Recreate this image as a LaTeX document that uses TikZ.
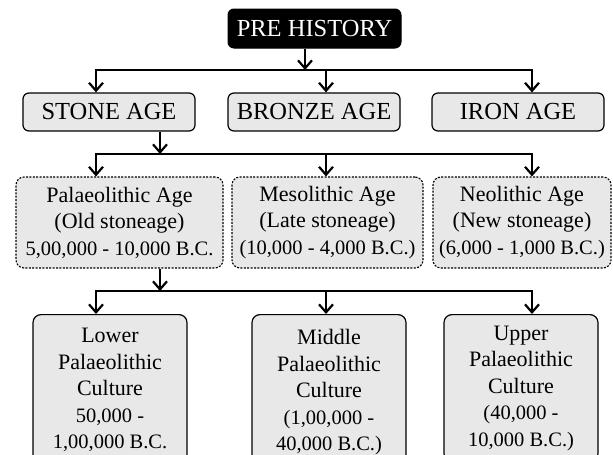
\documentclass[tikz,border=0pt]{standalone}
\usepackage{fontspec}
\setmainfont{Liberation Serif}
\usetikzlibrary{arrows.meta}
\definecolor{boxgray}{HTML}{E8E8E8}
\newcommand{\dtline}[1]{{\fontsize{20.5}{26.5}\selectfont #1}}
\begin{document}
\begin{tikzpicture}[x=1pt,y=-1pt,
  font=\fontsize{22}{26.5}\selectfont,
  capsfont/.style={font=\fontsize{24.5}{26}\selectfont},
  arr/.style={line width=2.2pt,line join=miter,-{Straight Barb[length=8pt,width=14pt]}},
  prebox/.style={draw=black,fill=black,text=white,line width=1pt,rounded corners=6pt,
    minimum width=173pt,minimum height=39pt,inner sep=0pt,capsfont},
  agebox/.style={draw=black,fill=boxgray,line width=1.2pt,rounded corners=6pt,
    minimum width=172pt,minimum height=38pt,inner sep=0pt,capsfont},
  dotbox/.style={draw=black,fill=boxgray,line width=1.1pt,dash pattern=on 2pt off 1.4pt,
    rounded corners=8pt,minimum height=91pt,inner sep=0pt,align=center},
  cultbox/.style={draw=black,fill=boxgray,line width=1.2pt,rounded corners=8pt,
    minimum width=154pt,inner sep=0pt,align=center,anchor=north}]
\useasboundingbox (0,0) rectangle (613,455);
\clip (0,0) rectangle (613,455);
% nodes
\node[prebox] (pre) at (314.5,28.5) {PRE HISTORY};
\node[agebox] (stone) at (109,112) {STONE AGE};
\node[agebox] (bronze) at (314,112) {BRONZE AGE};
\node[agebox] (iron) at (518,112) {IRON AGE};
\node[dotbox,minimum width=207pt] (palaeo) at (119.5,222.5)
  {Palaeolithic Age\\(Old stoneage)\\\dtline{5,00,000 - 10,000 B.C.}};
\node[dotbox,minimum width=191pt] (meso) at (327.5,222.5)
  {Mesolithic Age\\(Late stoneage)\\\dtline{(10,000 - 4,000 B.C.)}};
\node[dotbox,minimum width=178pt] (neo) at (522,222.5)
  {Neolithic Age\\(New stoneage)\\\dtline{(6,000 - 1,000 B.C.)}};
\node[cultbox,minimum height=151pt] (lower) at (110,314)
  {Lower\\Palaeolithic\\Culture\\\dtline{50,000 -}\\\dtline{1,00,000 B.C.}};
\node[cultbox,minimum height=155pt] (middle) at (329,314)
  {Middle\\Palaeolithic\\Culture\\\dtline{(1,00,000 -}\\\dtline{40,000 B.C.)}};
\node[cultbox,minimum height=147pt] (upper) at (521,314)
  {Upper\\Palaeolithic\\Culture\\\dtline{(40,000 -}\\\dtline{10,000 B.C.)}};
% junction coordinates
\coordinate (c0) at (305,70);
\coordinate (c1l) at (96,70);
\coordinate (c1m) at (326,70);
\coordinate (c1r) at (532,70);
\coordinate (c2) at (160,154);
\coordinate (c2l) at (96,154);
\coordinate (c2m) at (326,154);
\coordinate (c2r) at (532,154);
\coordinate (c3) at (160,291);
\coordinate (c3l) at (96,291);
\coordinate (c3m) at (326,291);
\coordinate (c3r) at (532,291);
% connectors level 1
\draw[arr] (pre.south -| c0) -- (c0);
\draw[arr] (c1m) -| (c1l |- stone.north);
\draw[arr] (c1m) -| (c1r |- iron.north);
\draw[arr] (c1m) -- (c1m |- bronze.north);
% level 2
\draw[arr] (stone.south -| c2) -- (c2);
\draw[arr] (c2) -| (c2l |- palaeo.north);
\draw[arr] (c2) -| (c2r |- neo.north);
\draw[arr] (c2m) -- (c2m |- meso.north);
% level 3
\draw[arr] (palaeo.south -| c3) -- (c3);
\draw[arr] (c3) -| (c3l |- lower.north);
\draw[arr] (c3) -| (c3r |- upper.north);
\draw[arr] (c3m) -- (c3m |- middle.north);
\end{tikzpicture}
\end{document}
